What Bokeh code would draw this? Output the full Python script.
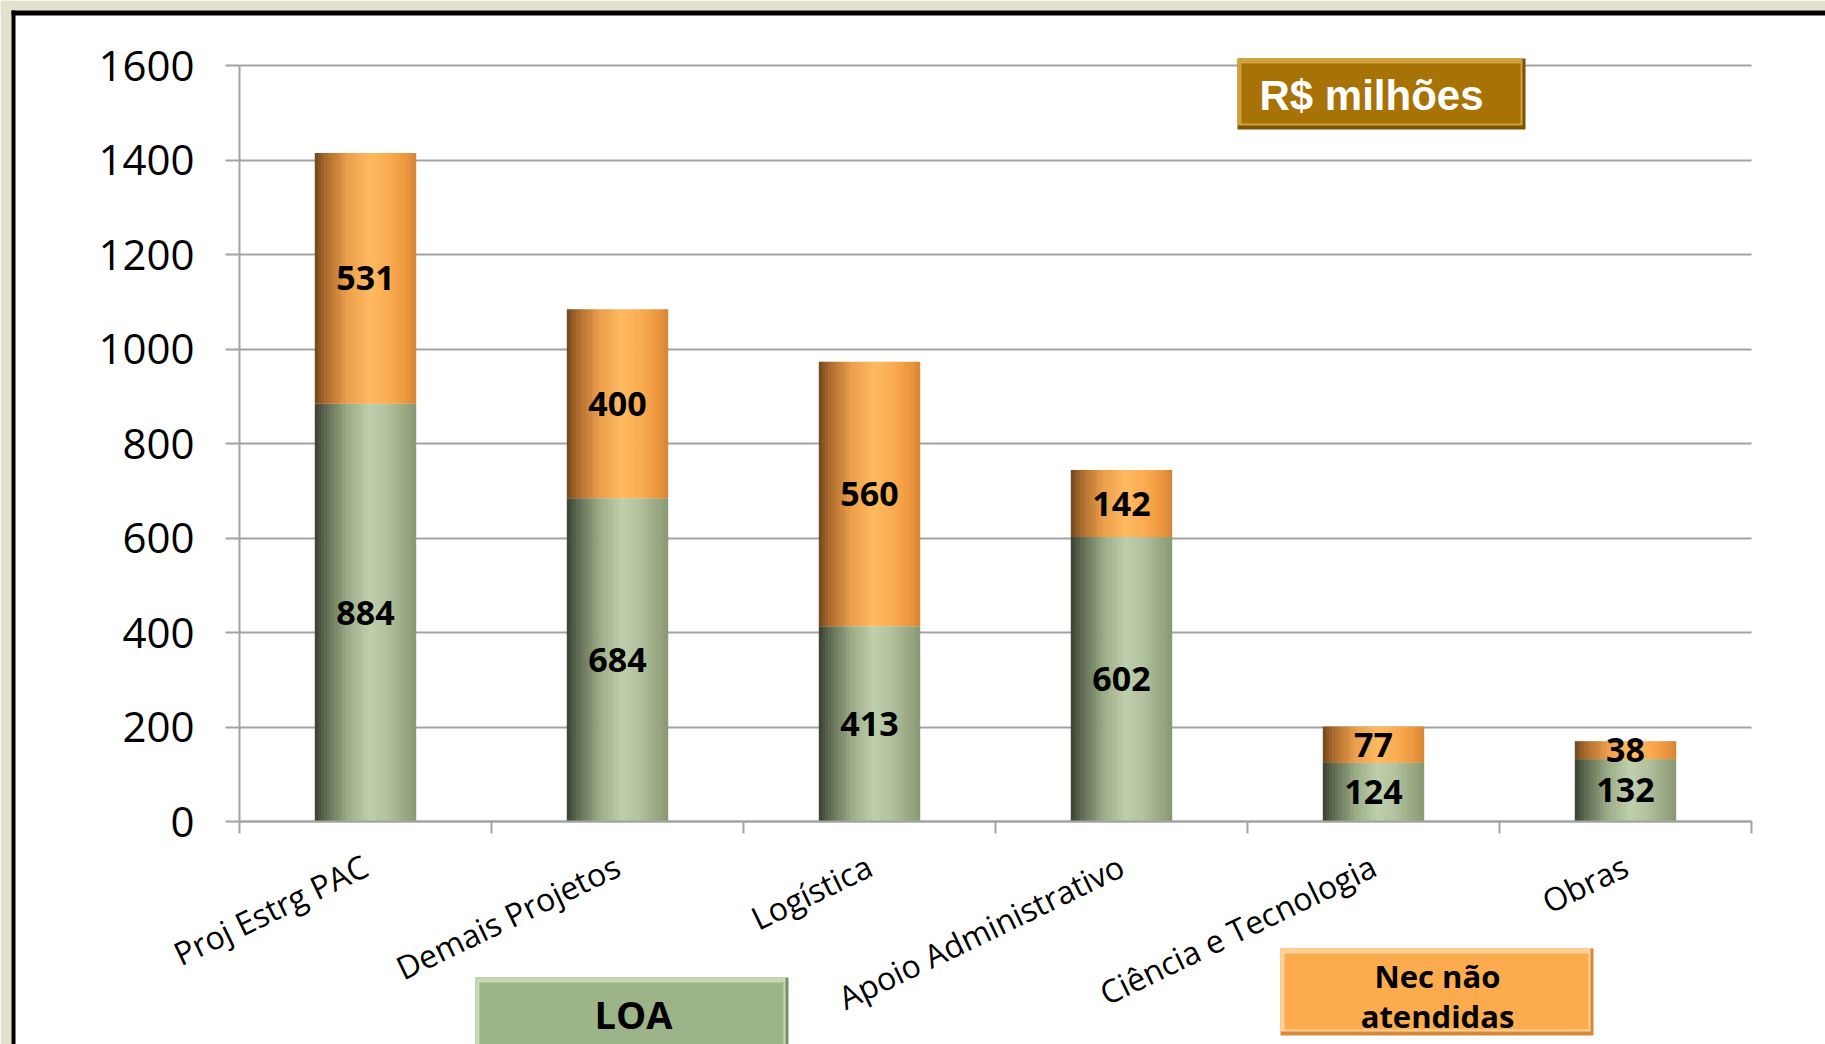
import numpy as np
from bokeh.plotting import figure
from bokeh.models import FixedTicker, Label, LinearAxis, Grid, Range1d
from bokeh.embed import file_html
from bokeh.resources import INLINE
from bokeh.core.properties import value

# ---------------- data ----------------
categories = ["Proj Estrg PAC", "Demais Projetos", "Logística",
              "Apoio Administrativo", "Ciência e Tecnologia", "Obras"]
loa = [884, 684, 413, 602, 124, 132]
nec_nao_atendidas = [531, 400, 560, 142, 77, 38]
y_ticks = [0, 200, 400, 600, 800, 1000, 1200, 1400, 1600]

# ---------------- layout (pixel geometry of the page) ----------------
W, H = 1825, 1044
OFF = 0
X0, XU = 239, 252.0        # page x of category-axis start, px per category
Y0, YU = 821, 756 / 1600.0  # page y of value 0, px per value unit


def X(px):
    return (px - X0) / XU


def Y(py):
    return (Y0 - py) / YU


p = figure(width=W, height=H, output_backend="svg", toolbar_location=None,
           title=None, x_axis_type=None, y_axis_type=None,
           x_range=Range1d(X(OFF), X(OFF + W)),
           y_range=Range1d(Y(OFF + H), Y(OFF)),
           min_border=0, outline_line_color=None,
           background_fill_color="white", border_fill_color="white")

GRAY = "#a3a3a3"

# frame decoration: beige background strip and black border line
BEIGE = "#e3e0cc"
p.quad(left=X(OFF), right=X(11), bottom=Y(OFF + H), top=Y(OFF), fill_color=BEIGE, line_color=None)
p.quad(left=X(OFF), right=X(OFF + W), bottom=Y(10), top=Y(OFF), fill_color=BEIGE, line_color=None)
p.quad(left=X(11), right=X(15), bottom=Y(OFF + H), top=Y(10), fill_color="black", line_color=None)
p.quad(left=X(11), right=X(OFF + W), bottom=Y(15), top=Y(10), fill_color="black", line_color=None)

# grid
grid = Grid(dimension=1, ticker=FixedTicker(ticks=y_ticks), grid_line_color=GRAY,
            grid_line_width=2, cross_bounds=(0, len(categories)))
p.add_layout(grid)

# ---------------- bars with horizontal gradient ----------------
def interp(stops, t):
    for (t0, c0), (t1, c1) in zip(stops[:-1], stops[1:]):
        if t0 <= t <= t1:
            f = (t - t0) / (t1 - t0)
            c = [int(round(a + (b - a) * f)) for a, b in zip(c0, c1)]
            return "#%02x%02x%02x" % tuple(c)
    c = stops[-1][1]
    return "#%02x%02x%02x" % tuple(c)


GREEN_STOPS = [(0.0, (58, 66, 50)), (0.12, (98, 110, 84)), (0.33, (156, 173, 136)),
               (0.55, (191, 207, 171)), (0.72, (178, 194, 158)), (0.9, (152, 167, 130)),
               (1.0, (138, 153, 117))]
ORANGE_STOPS = [(0.0, (112, 70, 30)), (0.12, (176, 110, 46)), (0.33, (236, 160, 76)),
                (0.55, (255, 186, 96)), (0.75, (250, 170, 80)), (0.9, (236, 150, 62)),
                (1.0, (214, 134, 54))]

centers = np.arange(len(categories)) + 0.5
loa_arr = np.array(loa, dtype=float)
nec_arr = np.array(nec_nao_atendidas, dtype=float)
BAR_W = 0.40
N = 32
sw = BAR_W / N
for k in range(N):
    t = (k + 0.5) / N
    off = -BAR_W / 2 + (k + 0.5) * sw
    p.vbar(x=centers + off, width=sw * 1.2, bottom=0, top=loa_arr,
           fill_color=interp(GREEN_STOPS, t), line_color=None)
    p.vbar(x=centers + off, width=sw * 1.2, bottom=loa_arr, top=loa_arr + nec_arr,
           fill_color=interp(ORANGE_STOPS, t), line_color=None)

# value labels
p.text(x=centers, y=loa_arr / 2, text=[str(v) for v in loa],
       text_font=value("Open Sans"), text_font_style="bold", text_font_size="34px",
       text_align="center", text_baseline="middle", text_color="black")
p.text(x=centers, y=loa_arr + nec_arr / 2, text=[str(v) for v in nec_nao_atendidas],
       text_font=value("Open Sans"), text_font_style="bold", text_font_size="34px",
       text_align="center", text_baseline="middle", text_color="black")

# ---------------- axes ----------------
xaxis = LinearAxis(fixed_location=0,
                   ticker=FixedTicker(ticks=list(centers), minor_ticks=list(range(len(categories) + 1))),
                   major_label_overrides={float(c): n for c, n in zip(centers, categories)},
                   bounds=(0, len(categories)),
                   major_tick_out=0, major_tick_in=0,
                   minor_tick_out=12, minor_tick_in=0,
                   minor_tick_line_color=GRAY, minor_tick_line_width=2,
                   axis_line_color=GRAY, axis_line_width=2,
                   major_label_orientation=0.45,
                   major_label_standoff=30,
                   major_label_text_font="Open Sans",
                   major_label_text_font_size="32px",
                   major_label_text_color="black")
p.add_layout(xaxis, "below")

yaxis = LinearAxis(fixed_location=0, ticker=FixedTicker(ticks=y_ticks),
                   bounds=(0, 1600),
                   major_tick_out=14, major_tick_in=0,
                   minor_tick_out=0, minor_tick_in=0,
                   major_tick_line_color=GRAY, major_tick_line_width=2,
                   axis_line_color=GRAY, axis_line_width=2,
                   major_label_standoff=31,
                   major_label_text_font="Open Sans",
                   major_label_text_font_size="42px",
                   major_label_text_color="black")
p.add_layout(yaxis, "left")


# ---------------- boxes ("legend" and unit tag) ----------------
def bevel_box(l, r, t, b, main, light, dark):
    p.quad(left=X(l), right=X(r), top=Y(t), bottom=Y(b), fill_color=dark, line_color=None)
    p.quad(left=X(l), right=X(r - 3), top=Y(t), bottom=Y(b - 4), fill_color=light, line_color=None)
    p.quad(left=X(l + 4), right=X(r - 5), top=Y(t + 5), bottom=Y(b - 6), fill_color=main, line_color=None)


bevel_box(1237, 1525, 58, 129, "#a87306", "#d4a03a", "#7a5405")
p.add_layout(Label(x=X(1371), y=Y(95), text="R$ milhões", text_font="Liberation Sans",
                   text_font_style="bold", text_font_size="42px", text_color="white",
                   text_align="center", text_baseline="middle"))

bevel_box(475, 788, 977, 1060, "#9db488", "#c8d8b4", "#7b8f68")
p.add_layout(Label(x=X(633), y=Y(1013), text="LOA", text_font="Open Sans",
                   text_font_style="bold", text_font_size="38px", text_color="black",
                   text_align="center", text_baseline="middle"))

bevel_box(1280, 1593, 948, 1035, "#fcab4f", "#ffd293", "#d8883a")
p.add_layout(Label(x=X(1437), y=Y(975), text="Nec não", text_font="Open Sans",
                   text_font_style="bold", text_font_size="31px", text_color="black",
                   text_align="center", text_baseline="middle"))
p.add_layout(Label(x=X(1437), y=Y(1015), text="atendidas", text_font="Open Sans",
                   text_font_style="bold", text_font_size="31px", text_color="black",
                   text_align="center", text_baseline="middle"))

open("out.html", "w").write(file_html(p, INLINE))
